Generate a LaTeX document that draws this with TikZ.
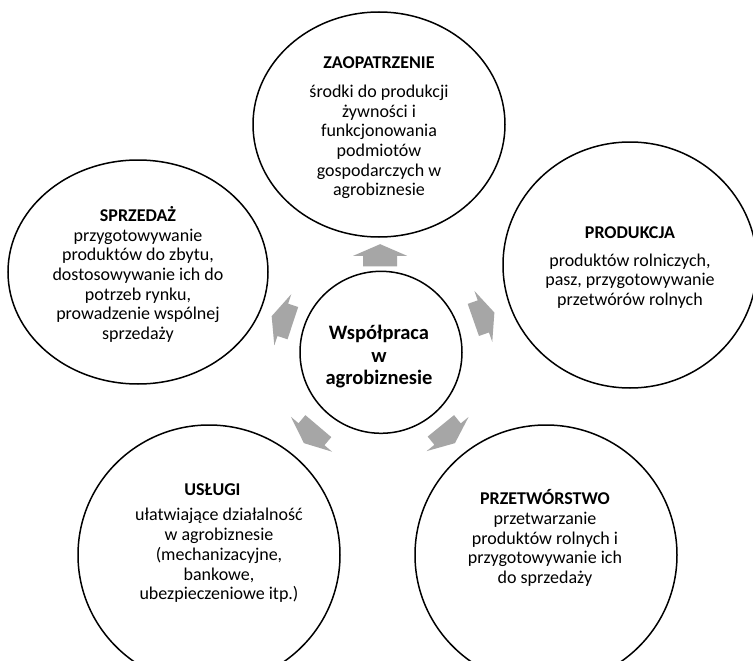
\documentclass[tikz,border=0pt]{standalone}
\usepackage{fontspec}
\setmainfont{Carlito}
\usetikzlibrary{calc,shapes.geometric}
\definecolor{arrowgray}{RGB}{166,166,166}
\tikzset{
  pics/outarrow/.style={code={
    \fill[arrowgray] (-11.15,-17) -- (-0.55,-17) -- (-0.55,-27) -- (11.15,0)
      -- (-0.55,27) -- (-0.55,17) -- (-11.15,17) -- cycle;
  }}
}
\begin{document}
\begin{tikzpicture}[x=1pt,y=-1pt,
  bubble/.style={draw=black, line width=1.5pt, ellipse, inner sep=0pt, fill=white},
  body/.style={align=center, inner sep=0pt, text=black,
    font=\fontsize{18}{19.7}\selectfont},
  hubtext/.style={align=center, inner sep=0pt, text=black,
    font=\fontsize{20.5}{22.5}\selectfont\bfseries}
]
\useasboundingbox (0,0) rectangle (753,661);
\fill[white] (0,0) rectangle (753,661);
\clip (0,0) rectangle (753,661);

% central hub and the five surrounding areas
\node[bubble, minimum width=162pt, minimum height=162pt] (hub) at (381,352.3) {};
\node[bubble, minimum width=252pt, minimum height=225pt] (zao) at (379,124.5) {};
\node[bubble, minimum width=254pt, minimum height=246pt] (prod) at (630,265) {};
\node[bubble, minimum width=262pt, minimum height=260pt] (przet) at (546,555) {};
\node[bubble, minimum width=262pt, minimum height=260pt] (uslugi) at (209,555) {};
\node[bubble, minimum width=260pt, minimum height=224pt] (sprzed) at (138,272) {};

% labels
\node[hubtext] (hub-t) at ($(hub)+(-2,4.5)$) {Współpraca\\ w\\ agrobiznesie};
\node[body] (zao-t) at ($(zao)+(0,3.5)$)
  {\textbf{ZAOPATRZENIE}\\[9pt] środki do produkcji\\ żywności i\\ funkcjonowania\\ podmiotów\\ gospodarczych w\\ agrobiznesie};
\node[body] (prod-t) at ($(prod)+(0,2.5)$)
  {\textbf{PRODUKCJA}\\[8pt] produktów rolniczych,\\ pasz, przygotowywanie\\ przetwórów rolnych};
\node[body] (przet-t) at ($(przet)+(-1,-17)$)
  {\textbf{PRZETWÓRSTWO}\\ przetwarzanie\\ produktów rolnych i\\ przygotowywanie ich\\ do sprzedaży};
\node[body] (uslugi-t) at ($(uslugi)+(10,-12)$)
  {\textbf{USŁUGI}\hspace*{13pt}\\[6pt] ułatwiające działalność\\ w agrobiznesie\\ (mechanizacyjne,\\ bankowe,\\ ubezpieczeniowe itp.)};
\node[body] (sprzed-t) at ($(sprzed)+(0,2.5)$)
  {\textbf{SPRZEDAŻ}\\ przygotowywanie\\ produktów do zbytu,\\ dostosowywanie ich do\\ potrzeb rynku,\\ prowadzenie wspólnej\\ sprzedaży};

% block arrows pointing outward from the hub
\pic[rotate=90]    at ($(hub)!97pt!(zao)$)    {outarrow};
\pic[rotate=19.3]  at ($(hub)!109pt!(prod)$)  {outarrow};
\pic[rotate=-50.9] at ($(hub)!106pt!(przet)$) {outarrow};
\pic[rotate=-130.3] at ($(hub)!108pt!(uslugi)$) {outarrow};
\pic[rotate=161.7] at ($(hub)!104pt!(sprzed)$) {outarrow};
\end{tikzpicture}
\end{document}
